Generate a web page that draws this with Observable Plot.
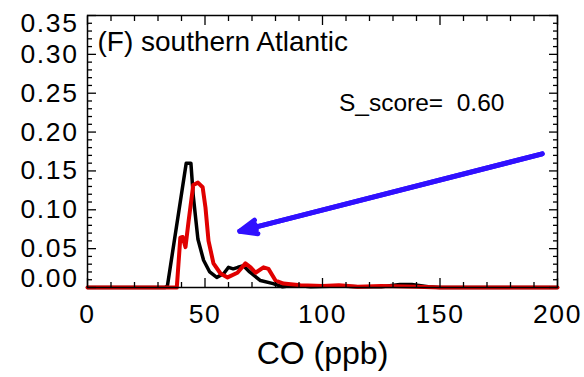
<!DOCTYPE html>
<html>
<head>
<meta charset="utf-8">
<script src="https://cdn.jsdelivr.net/npm/d3@7"></script>
<script src="https://cdn.jsdelivr.net/npm/@observablehq/plot@0.6"></script>
<style>
  html, body { margin: 0; padding: 0; background: #fff; }
  #chart svg { display: block; }
  #chart g[aria-label="y-axis tick label"], #chart g[aria-label="x-axis tick label"] { letter-spacing: 1.6px; }
</style>
</head>
<body>
<div id="chart"></div>
<script>
// Black curve (observed)
const blackX = [0, 33, 34, 42, 44, 45, 47, 49.4, 52, 55, 58, 60, 62, 64, 66.4, 69, 73.6, 79, 83, 88, 95, 107, 115, 125, 133, 138, 145, 150, 200];
const blackY = [0, 0, 0.002, 0.16, 0.16, 0.118, 0.062, 0.035, 0.02, 0.013, 0.018, 0.026, 0.024, 0.026, 0.028, 0.02, 0.009, 0.005, 0.001, 0.003, 0.001, 0.002, 0.001, 0.001, 0.004, 0.004, 0.001, 0, 0];
// Red curve (model)
const redX = [0, 38, 39.5, 40.5, 41.7, 43, 45, 47, 49, 50.2, 51.5, 53.6, 56.6, 59.6, 63.8, 67.2, 69.4, 71.5, 74.9, 77, 80, 83.4, 90.6, 100, 107, 115, 125, 140, 150, 200];
const redY = [0, 0, 0.064, 0.065, 0.052, 0.085, 0.132, 0.135, 0.129, 0.103, 0.06, 0.031, 0.018, 0.013, 0.019, 0.031, 0.026, 0.019, 0.026, 0.024, 0.009, 0.005, 0.003, 0.002, 0.003, 0.001, 0.002, 0.001, 0, 0];

// Ticks
const xMajor = [0, 50, 100, 150, 200];
const xMinor = [10, 20, 30, 40, 60, 70, 80, 90, 110, 120, 130, 140, 160, 170, 180, 190];
const yMajor = [0, 0.05, 0.10, 0.15, 0.20, 0.25, 0.30, 0.35];
const yMinor = d3.range(1, 35).filter(i => i % 5 !== 0).map(i => i / 100);
const yInnerLabels = [0.05, 0.10, 0.15, 0.20, 0.25, 0.30];
const yEndLabels = [0, 0.35];
const yEndShift = [-9, 8];

// Annotations
const titleText = "(F) southern Atlantic";
const scoreText = "S_score=  0.60";
const scorePos = [{x: 107, y: 0.237}];
const arrowTail = [193.5, 0.172];
const arrowTip = [64.8, 0.0725];

const black = blackX.map((x, i) => ({x, y: blackY[i]}));
const red = redX.map((x, i) => ({x, y: redY[i]}));
const arrowData = [{x1: arrowTail[0], y1: arrowTail[1], x2: arrowTip[0], y2: arrowTip[1]}];

const font = "'Liberation Sans', Arial, Helvetica, sans-serif";
const tickFont = 26.5;
const tickStyle = {tickFormat: () => "", strokeWidth: 1.3, label: null};

const chart = Plot.plot({
  width: 584,
  height: 377,
  marginLeft: 87,
  marginRight: 27,
  marginTop: 15,
  marginBottom: 90,
  style: {fontFamily: font, background: "#fff", color: "#000"},
  x: {domain: [0, 200]},
  y: {domain: [0, 0.35]},
  marks: [
    // lines
    Plot.line(black, {x: "x", y: "y", stroke: "#000", strokeWidth: 3.5}),
    Plot.line(red, {x: "x", y: "y", stroke: "#e00000", strokeWidth: 4}),
    // frame
    Plot.frame({stroke: "#000", strokeWidth: 1.5}),
    // inward ticks: left / right
    Plot.axisY({anchor: "left", ticks: yMajor, tickSize: -9, ...tickStyle}),
    Plot.axisY({anchor: "left", ticks: yMinor, tickSize: -5, ...tickStyle}),
    Plot.axisY({anchor: "right", ticks: yMajor, tickSize: -9, ...tickStyle}),
    Plot.axisY({anchor: "right", ticks: yMinor, tickSize: -5, ...tickStyle}),
    // inward ticks: bottom / top
    Plot.axisX({anchor: "bottom", ticks: xMajor, tickSize: -9, ...tickStyle}),
    Plot.axisX({anchor: "bottom", ticks: xMinor, tickSize: -5, ...tickStyle}),
    Plot.axisX({anchor: "top", ticks: xMajor, tickSize: -9, ...tickStyle}),
    Plot.axisX({anchor: "top", ticks: xMinor, tickSize: -5, ...tickStyle}),
    // y labels
    Plot.axisY({anchor: "left", ticks: yInnerLabels, tickSize: 0, tickPadding: 9, tickFormat: d3.format(".2f"), fontSize: tickFont, label: null}),
    Plot.text(yEndLabels, {x: 0, y: d => d, text: d3.format(".2f"), textAnchor: "end", dx: -9, fontSize: tickFont, lineAnchor: "middle",
      render: (index, scales, values, dims, context, next) => {
        const g = next(index, scales, values, dims, context);
        g.style.letterSpacing = "1.6px";
        g.querySelectorAll("text").forEach((t, j) => t.setAttribute("dy", yEndShift[index[j]]));
        return g;
      }}),
    // x labels
    Plot.axisX({anchor: "bottom", ticks: xMajor, tickSize: 0, tickPadding: 17, tickFormat: d3.format("d"), fontSize: tickFont,
      label: null}),
    Plot.axisX({anchor: "bottom", ticks: [], tickSize: 0, fontSize: 32,
      label: "CO (ppb)", labelAnchor: "center", labelArrow: "none", labelOffset: 76}),
    // annotations
    Plot.text([titleText], {frameAnchor: "top-left", dx: 10, dy: 27, text: d => d, textAnchor: "start", lineAnchor: "middle", fontSize: 28}),
    Plot.text(scorePos, {x: "x", y: "y", text: () => scoreText, textAnchor: "start", lineAnchor: "middle", fontSize: 24.5}),
    Plot.arrow(arrowData, {x1: "x1", y1: "y1", x2: "x2", y2: "y2",
      stroke: "#3010ff", strokeWidth: 5, headLength: 5.5, headAngle: 45}),
    Plot.arrow(arrowData, {x1: "x1", y1: "y1", x2: "x2", y2: "y2",
      stroke: "#3010ff", strokeWidth: 5, headLength: 5, headAngle: 20})
  ]
});

document.getElementById("chart").appendChild(chart);
</script>
</body>
</html>
